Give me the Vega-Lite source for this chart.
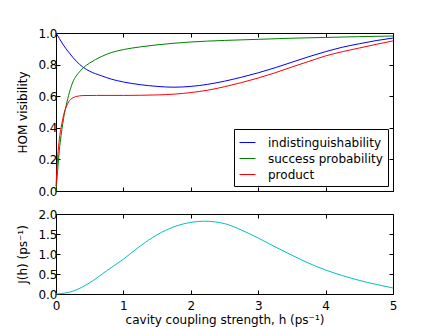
{
  "$schema": "https://vega.github.io/schema/vega-lite/v6.json",
  "padding": {"left": 16, "top": 26, "right": 36, "bottom": 4},
  "background": "white",
  "spacing": 9,
  "resolve": {"scale": {"color": "independent"}, "legend": {"color": "independent"}},
  "config": {
    "font": "DejaVu Sans",
    "view": {"stroke": "#000", "strokeWidth": 1},
    "axis": {
      "grid": false, "domain": false, "tickColor": "#000", "tickSize": -4,
      "labelColor": "#000", "labelFont": "DejaVu Sans", "labelFontSize": 12,
      "titleFont": "DejaVu Sans", "titleFontSize": 12, "titleFontWeight": "normal",
      "titleColor": "#000", "labelPadding": 3, "titlePadding": 8, "labelFlush": false
    }
  },
  "vconcat": [
    {
      "width": 337, "height": 158,
      "data": {"values": [
        {"h":0,"s":"indistinguishability","v":1},{"h":0.05,"s":"indistinguishability","v":0.965},{"h":0.1,"s":"indistinguishability","v":0.93},{"h":0.2,"s":"indistinguishability","v":0.872},{"h":0.3,"s":"indistinguishability","v":0.822},{"h":0.4,"s":"indistinguishability","v":0.784},{"h":0.5,"s":"indistinguishability","v":0.758},{"h":0.67,"s":"indistinguishability","v":0.73},{"h":0.82,"s":"indistinguishability","v":0.708},{"h":1,"s":"indistinguishability","v":0.69},{"h":1.25,"s":"indistinguishability","v":0.673},{"h":1.5,"s":"indistinguishability","v":0.662},{"h":1.75,"s":"indistinguishability","v":0.657},{"h":2,"s":"indistinguishability","v":0.662},{"h":2.25,"s":"indistinguishability","v":0.675},{"h":2.5,"s":"indistinguishability","v":0.695},{"h":2.75,"s":"indistinguishability","v":0.72},{"h":3,"s":"indistinguishability","v":0.748},{"h":3.25,"s":"indistinguishability","v":0.78},{"h":3.5,"s":"indistinguishability","v":0.815},{"h":3.75,"s":"indistinguishability","v":0.85},{"h":4,"s":"indistinguishability","v":0.882},{"h":4.25,"s":"indistinguishability","v":0.91},{"h":4.5,"s":"indistinguishability","v":0.932},{"h":4.75,"s":"indistinguishability","v":0.952},{"h":5,"s":"indistinguishability","v":0.968},
        {"h":0,"s":"success probability","v":0},{"h":0.025,"s":"success probability","v":0.13},{"h":0.05,"s":"success probability","v":0.257},{"h":0.075,"s":"success probability","v":0.35},{"h":0.1,"s":"success probability","v":0.425},{"h":0.125,"s":"success probability","v":0.49},{"h":0.15,"s":"success probability","v":0.54},{"h":0.175,"s":"success probability","v":0.585},{"h":0.2,"s":"success probability","v":0.625},{"h":0.25,"s":"success probability","v":0.69},{"h":0.3,"s":"success probability","v":0.728},{"h":0.35,"s":"success probability","v":0.755},{"h":0.4,"s":"success probability","v":0.778},{"h":0.5,"s":"success probability","v":0.81},{"h":0.67,"s":"success probability","v":0.85},{"h":0.82,"s":"success probability","v":0.876},{"h":1,"s":"success probability","v":0.895},{"h":1.25,"s":"success probability","v":0.912},{"h":1.5,"s":"success probability","v":0.925},{"h":2,"s":"success probability","v":0.943},{"h":2.5,"s":"success probability","v":0.953},{"h":3,"s":"success probability","v":0.96},{"h":3.5,"s":"success probability","v":0.967},{"h":4,"s":"success probability","v":0.972},{"h":4.5,"s":"success probability","v":0.977},{"h":5,"s":"success probability","v":0.981},
        {"h":0,"s":"product","v":0.03},{"h":0.025,"s":"product","v":0.215},{"h":0.05,"s":"product","v":0.33},{"h":0.075,"s":"product","v":0.4},{"h":0.1,"s":"product","v":0.455},{"h":0.125,"s":"product","v":0.5},{"h":0.15,"s":"product","v":0.53},{"h":0.175,"s":"product","v":0.555},{"h":0.2,"s":"product","v":0.572},{"h":0.25,"s":"product","v":0.59},{"h":0.3,"s":"product","v":0.598},{"h":0.4,"s":"product","v":0.604},{"h":0.6,"s":"product","v":0.605},{"h":0.8,"s":"product","v":0.605},{"h":1,"s":"product","v":0.605},{"h":1.25,"s":"product","v":0.606},{"h":1.5,"s":"product","v":0.608},{"h":1.75,"s":"product","v":0.613},{"h":2,"s":"product","v":0.623},{"h":2.25,"s":"product","v":0.638},{"h":2.5,"s":"product","v":0.66},{"h":2.75,"s":"product","v":0.686},{"h":3,"s":"product","v":0.715},{"h":3.25,"s":"product","v":0.748},{"h":3.5,"s":"product","v":0.785},{"h":3.75,"s":"product","v":0.82},{"h":4,"s":"product","v":0.855},{"h":4.25,"s":"product","v":0.882},{"h":4.5,"s":"product","v":0.905},{"h":4.75,"s":"product","v":0.928},{"h":5,"s":"product","v":0.95}
      ]},
      "layer": [
        {
          "mark": {"type": "line", "strokeWidth": 1, "interpolate": "monotone"},
          "encoding": {
            "x": {"field": "h", "type": "quantitative", "scale": {"domain": [0, 5], "nice": false},
                  "axis": {"values": [0,1,2,3,4,5], "labels": false, "title": null}},
            "y": {"field": "v", "type": "quantitative", "scale": {"domain": [0, 1], "nice": false},
                  "axis": {"values": [0,0.2,0.4,0.6,0.8,1.0], "format": ".1f", "title": "HOM visibility"}},
            "color": {"field": "s", "type": "nominal",
                      "scale": {"domain": ["indistinguishability","success probability","product"], "range": ["#0000ff","#008000","#ff0000"]},
                      "legend": {"title": null, "orient": "bottom-right", "offset": 5, "strokeColor": "#000", "fillColor": "white",
                                 "padding": 5, "symbolType": "stroke", "symbolSize": 256, "symbolStrokeWidth": 1,
                                 "labelFontSize": 12, "labelColor": "#000", "labelOffset": 12, "rowPadding": 1}}
          }
        },
        {
          "mark": {"type": "point", "opacity": 0},
          "encoding": {
            "x": {"field": "h", "type": "quantitative", "axis": {"orient": "top", "values": [0,1,2,3,4,5], "labels": false, "title": null}},
            "y": {"field": "v", "type": "quantitative", "axis": {"orient": "right", "values": [0,0.2,0.4,0.6,0.8,1.0], "labels": false, "title": null}}
          }
        }
      ],
      "resolve": {"axis": {"x": "independent", "y": "independent"}}
    },
    {
      "width": 337, "height": 80,
      "data": {"values": [
        {"h":0,"j":0},{"h":0.25,"j":0.07},{"h":0.5,"j":0.28},{"h":0.75,"j":0.58},{"h":1,"j":0.87},{"h":1.25,"j":1.2},{"h":1.5,"j":1.48},{"h":1.75,"j":1.68},{"h":2,"j":1.79},{"h":2.2,"j":1.82},{"h":2.5,"j":1.76},{"h":2.75,"j":1.6},{"h":3,"j":1.4},{"h":3.25,"j":1.18},{"h":3.5,"j":0.97},{"h":3.75,"j":0.77},{"h":4,"j":0.6},{"h":4.25,"j":0.46},{"h":4.5,"j":0.34},{"h":4.75,"j":0.24},{"h":5,"j":0.15}
      ]},
      "layer": [
        {
          "mark": {"type": "line", "strokeWidth": 1, "color": "#00bfbf", "interpolate": "monotone"},
          "encoding": {
            "x": {"field": "h", "type": "quantitative", "scale": {"domain": [0, 5], "nice": false},
                  "axis": {"values": [0,1,2,3,4,5], "format": "d", "labelPadding": 10, "title": "cavity coupling strength, h (ps⁻¹)", "titlePadding": 3}},
            "y": {"field": "j", "type": "quantitative", "scale": {"domain": [0, 2], "nice": false},
                  "axis": {"values": [0,0.5,1,1.5,2], "format": ".1f", "title": "J(h) (ps⁻¹)"}}
          }
        },
        {
          "mark": {"type": "point", "opacity": 0},
          "encoding": {
            "x": {"field": "h", "type": "quantitative", "axis": {"orient": "top", "values": [0,1,2,3,4,5], "labels": false, "title": null}},
            "y": {"field": "j", "type": "quantitative", "axis": {"orient": "right", "values": [0,0.5,1,1.5,2], "labels": false, "title": null}}
          }
        }
      ],
      "resolve": {"axis": {"x": "independent", "y": "independent"}}
    }
  ]
}
